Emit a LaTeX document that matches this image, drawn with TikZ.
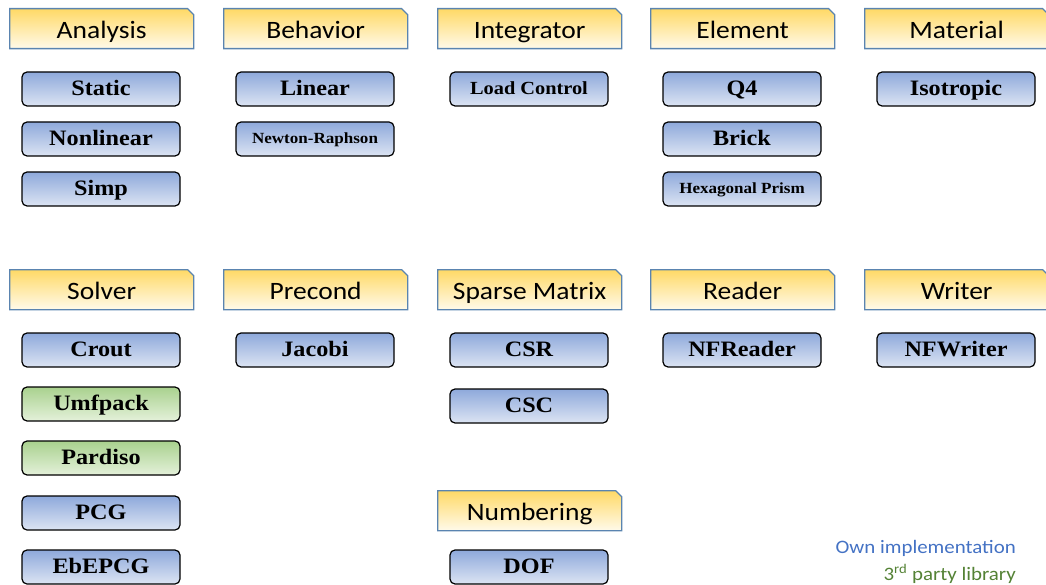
\documentclass[tikz,border=0pt]{standalone}
\usepackage{fontspec}
\usepackage{xcolor}
\setmainfont{Liberation Serif}
\newfontfamily\hdfont[FakeStretch=1.1]{Carlito}
\newfontfamily\bxfont[FakeStretch=1.1]{Liberation Serif}
\usetikzlibrary{shapes.misc, positioning}

\definecolor{hdtop}{HTML}{FFD966}
\definecolor{hdbot}{HTML}{FFFAEA}
\definecolor{hdline}{HTML}{5A84B0}
\definecolor{owntop}{HTML}{8EA9DB}
\definecolor{ownbot}{HTML}{DCE4F3}
\definecolor{exttop}{HTML}{A9D18E}
\definecolor{extbot}{HTML}{E4F1DA}
\definecolor{ownclr}{HTML}{4472C4}
\definecolor{extclr}{HTML}{548235}

\tikzset{
  group/.style={chamfered rectangle, chamfered rectangle corners=north east,
    chamfered rectangle xsep=3pt, chamfered rectangle ysep=3pt,
    anchor=north west, draw=hdline, line width=1.3pt,
    top color=hdtop, bottom color=hdbot,
    minimum width=184pt, minimum height=40pt, inner sep=0pt,
    text height=20pt, text depth=1pt,
    font=\hdfont\fontsize{25}{28}\selectfont},
  own/.style={rectangle, rounded corners=5pt, draw=black, line width=1.2pt,
    top color=owntop, bottom color=ownbot,
    minimum width=158pt, minimum height=34pt, inner sep=0pt,
    text height=16pt, text depth=2.6pt,
    font=\bxfont\bfseries\fontsize{22}{25}\selectfont},
  ext/.style={own, top color=exttop, bottom color=extbot},
  small/.style={text height=12pt, text depth=2pt,
    font=\bxfont\bfseries\fontsize{15.5}{18}\selectfont},
  legend/.style={anchor=base east, inner sep=0pt,
    font=\hdfont\fontsize{19}{22}\selectfont}
}

\begin{document}
\begin{tikzpicture}[x=1pt, y=-1pt]
  \useasboundingbox (0,0) rectangle (1046,585);
  \clip (0,0) rectangle (1046,585);

  % upper row of groups
  \node[group] (analysis) at (9,8) {Analysis};
  \node[group] (behavior) at (223,8) {Behavior};
  \node[group] (integrator) at (437,8) {Integrator};
  \node[group] (element) at (650,8) {Element};
  \node[group] (material) at (864,8) {Material};

  \node[own] (static) at (101,89) {Static};
  \node[own] (nonlinear) at (101,139) {Nonlinear};
  \node[own] (simp) at (101,189) {Simp};

  \node[own] (linear) at (315,89) {Linear};
  \node[own, small] (newton) at (315,139) {Newton-Raphson};

  \node[own, text height=14pt, text depth=2pt,
    font=\bxfont\bfseries\fontsize{18.5}{22}\selectfont] (loadctrl) at (529,89) {Load Control};

  \node[own] (q4) at (742,89) {Q4};
  \node[own] (brick) at (742,139) {Brick};
  \node[own, small] (hexprism) at (742,189) {Hexagonal Prism};

  \node[own] (isotropic) at (956,89) {Isotropic};

  % lower row of groups
  \node[group] (solver) at (9,269) {Solver};
  \node[group] (precond) at (223,269) {Precond};
  \node[group] (sparse) at (437,269) {Sparse Matrix};
  \node[group] (reader) at (650,269) {Reader};
  \node[group] (writer) at (864,269) {Writer};
  \node[group] (numbering) at (437,490) {Numbering};

  \node[own] (crout) at (101,350) {Crout};
  \node[ext] (umfpack) at (101,404) {Umfpack};
  \node[ext] (pardiso) at (101,458) {Pardiso};
  \node[own] (pcg) at (101,513) {PCG};
  \node[own] (ebepcg) at (101,567) {EbEPCG};

  \node[own] (jacobi) at (315,350) {Jacobi};

  \node[own] (csr) at (529,350) {CSR};
  \node[own] (csc) at (529,406) {CSC};
  \node[own] (dof) at (529,567) {DOF};

  \node[own] (nfreader) at (742,350) {NFReader};
  \node[own] (nfwriter) at (956,350) {NFWriter};

  % legend
  \node[legend, text=ownclr] (ownlbl) at (1016,553) {Own implementation};
  \node[legend, text=extclr] (extlbl) at (1016,580) {3\textsuperscript{rd} party library};
\end{tikzpicture}
\end{document}
